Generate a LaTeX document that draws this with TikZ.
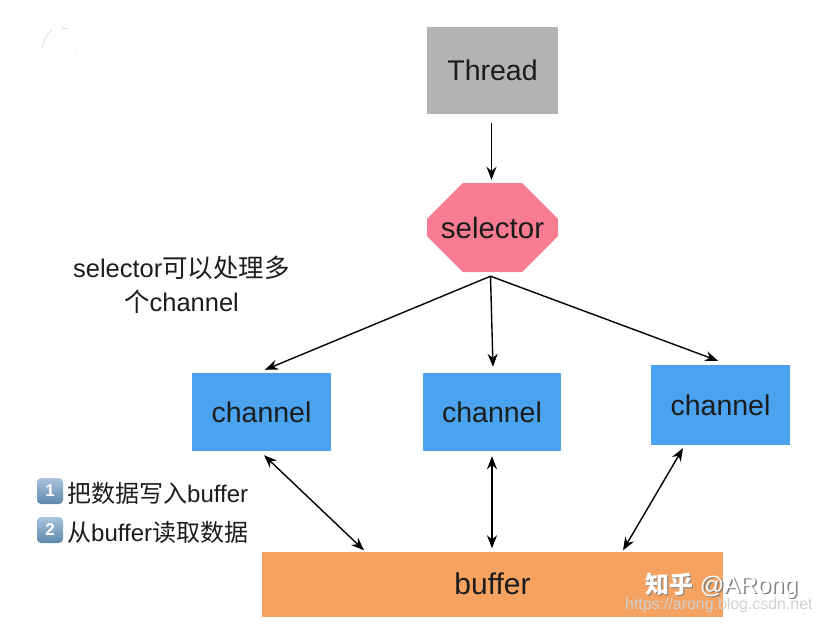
\documentclass[tikz,border=0pt]{standalone}
\usepackage{fontspec}
\setmainfont{Liberation Sans}
\newfontfamily\cjk{Noto Sans CJK SC}
\usetikzlibrary{arrows.meta,shapes.misc,shadings}
\definecolor{threadgrey}{HTML}{B3B3B3}
\definecolor{selectorpink}{HTML}{F87C91}
\definecolor{channelblue}{HTML}{4BA3F0}
\definecolor{bufferorange}{HTML}{F6A361}
\definecolor{inkdark}{HTML}{1C1C1C}
\definecolor{badgetop}{HTML}{A9C4DC}
\definecolor{badgebottom}{HTML}{5F88AD}
\tikzset{
  box/.style={rectangle,inner sep=0pt,text=inkdark},
  label text/.style={inner sep=0pt,text=inkdark},
  flow/.style={draw=black,line width=1.4pt,-{Stealth[length=13pt,width=10pt]}},
  both/.style={draw=black,line width=1.4pt,{Stealth[length=13pt,width=10pt]}-{Stealth[length=13pt,width=10pt]}},
  badge/.style={rectangle,rounded corners=4pt,inner sep=0pt,minimum width=26pt,minimum height=26pt,
    top color=badgetop,bottom color=badgebottom,text=white,font=\bfseries\fontsize{17}{20}\selectfont}
}
\begin{document}
\begin{tikzpicture}[x=1pt,y=-1pt]
\useasboundingbox (0,0) rectangle (822,624);

% main blocks
\node[box,fill=threadgrey,minimum width=131pt,minimum height=87pt,font=\fontsize{28.5}{34}\selectfont]
  (thread) at (492.5,70) {Thread};
\node[chamfered rectangle,chamfered rectangle xsep=38pt,chamfered rectangle ysep=25pt,
  fill=selectorpink,inner sep=0pt,text=inkdark,minimum width=131pt,minimum height=89pt,
  font=\fontsize{29.5}{34}\selectfont] (selector) at (492.5,227.5) {selector};
\node[box,fill=channelblue,minimum width=139pt,minimum height=78pt,font=\fontsize{28.5}{34}\selectfont]
  (chleft) at (261.5,412) {channel};
\node[box,fill=channelblue,minimum width=138pt,minimum height=78pt,font=\fontsize{28.5}{34}\selectfont]
  (chmid) at (492,412) {channel};
\node[box,fill=channelblue,minimum width=139pt,minimum height=80pt,font=\fontsize{28.5}{34}\selectfont]
  (chright) at (720.5,405) {channel};
\node[box,fill=bufferorange,minimum width=461pt,minimum height=65pt,font=\fontsize{30}{34}\selectfont]
  (buffer) at (492.5,584) {buffer};

% connectors
\draw[flow] ([xshift=-1pt,yshift=-9pt]thread.south) -- ([xshift=-1pt,yshift=3pt]selector.north);
\draw[flow] ([xshift=-2pt,yshift=-4pt]selector.south) -- ([xshift=3.5pt,yshift=3pt]chleft.north);
\draw[flow] ([xshift=-2pt,yshift=-4pt]selector.south) -- ([xshift=1pt,yshift=6pt]chmid.north);
\draw[flow] ([xshift=-2pt,yshift=-4pt]selector.south) -- ([xshift=-2.5pt,yshift=4pt]chright.north);
\draw[both] ([xshift=2.5pt,yshift=-4pt]chleft.south) -- ([xshift=-128.5pt,yshift=1pt]buffer.north);
\draw[both] ([yshift=-5pt]chmid.south) -- ([xshift=-0.5pt,yshift=3pt]buffer.north);
\draw[both] ([xshift=-37.5pt,yshift=-3pt]chright.south) -- ([xshift=130.5pt,yshift=1pt]buffer.north);

% captions
\node[label text,align=center,font=\fontsize{25.5}{34}\selectfont] (note) at (181.5,285) {selector{\cjk 可以处理多}\\{\cjk 个}channel};
\node[badge] (badgeone) at (50,491) {1};
\node[badge] (badgetwo) at (50,530) {2};
\node[label text,anchor=west,font=\fontsize{24}{29}\selectfont] (writeline) at (67,493) {{\cjk 把数据写入}buffer};
\node[label text,anchor=west,font=\fontsize{24}{29}\selectfont] (readline) at (67,532) {{\cjk 从}buffer{\cjk 读取数据}};

% watermark text with its drop shadow
\node[inner sep=0pt,anchor=west,text=black!50,font=\fontsize{24}{29}\selectfont] (wmshadow) at (646.5,587) {{\cjk\bfseries 知乎} @ARong};
\node[inner sep=0pt,anchor=west,text=white,font=\fontsize{24}{29}\selectfont] (wm) at (645,585.5) {{\cjk\bfseries 知乎} @ARong};
\node[inner sep=0pt,anchor=west,text=white!82!black,font=\fontsize{15.9}{19}\selectfont] (url) at (625,605) {https://arong.blog.csdn.net};

% faint specks in the upper left corner
\draw[black!14,line width=.7pt] (42,48) .. controls (44,38) and (48,33) .. (52,30);
\draw[black!14,line width=.7pt] (62,28) -- (68,28);
\fill[black!20] (76,53) circle (.6pt);
\end{tikzpicture}
\end{document}
